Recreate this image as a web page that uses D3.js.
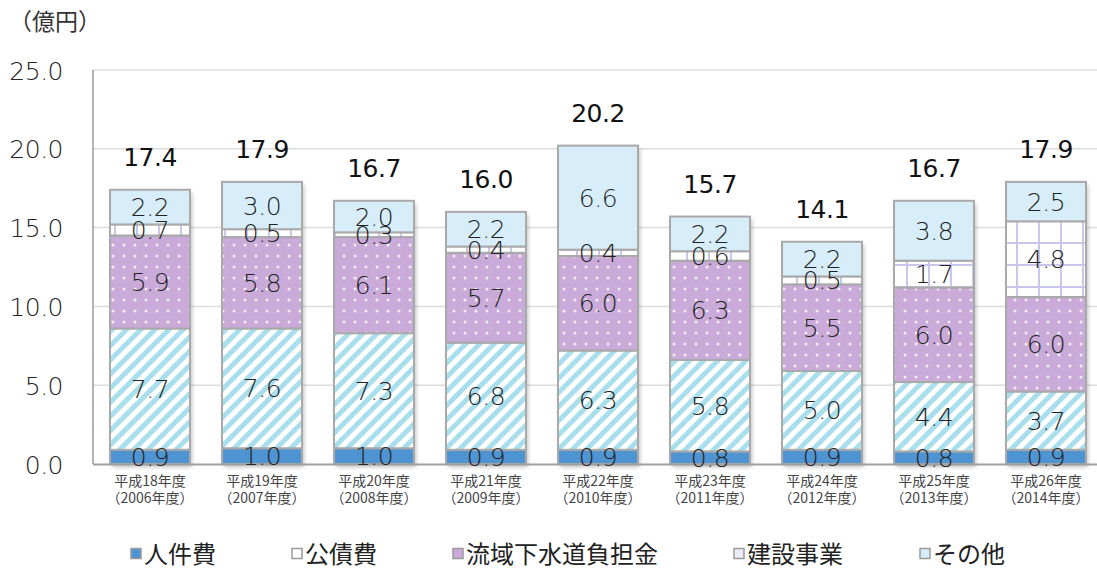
<!DOCTYPE html>
<html><head><meta charset="utf-8">
<script src="https://cdn.jsdelivr.net/npm/d3@7"></script>
<style>
html,body{margin:0;padding:0;background:#fff;}
svg{display:block;}
</style></head>
<body>
<svg id="chart" width="1097" height="570"></svg>
<script>
const categories = ["平成18年度|（2006年度）","平成19年度|（2007年度）","平成20年度|（2008年度）","平成21年度|（2009年度）","平成22年度|（2010年度）","平成23年度|（2011年度）","平成24年度|（2012年度）","平成25年度|（2013年度）","平成26年度|（2014年度）"];
const seriesNames = ["人件費","公債費","流域下水道負担金","建設事業","その他"];
const jinkenhi = [0.9,1.0,1.0,0.9,0.9,0.8,0.9,0.8,0.9];
const kousaihi = [7.7,7.6,7.3,6.8,6.3,5.8,5.0,4.4,3.7];
const ryuiki = [5.9,5.8,6.1,5.7,6.0,6.3,5.5,6.0,6.0];
const kensetsu = [0.7,0.5,0.3,0.4,0.4,0.6,0.5,1.7,4.8];
const sonota = [2.2,3.0,2.0,2.2,6.6,2.2,2.2,3.8,2.5];
const totals = [17.4,17.9,16.7,16.0,20.2,15.7,14.1,16.7,17.9];
const yTicks = [0,5,10,15,20,25];
const unitLabel = "（億円）";

(function(){
const seriesValues = [jinkenhi,kousaihi,ryuiki,kensetsu,sonota];
const fills = ["#4f94d2","url(#stripes)","url(#dots)","url(#grid)","#d7eefa"];
const legendFills = ["#4f94d2","#ffffff","#c9aad8","#ececf8","#d7eefa"];

const svg = d3.select("#chart");
const defs = svg.append("defs");

const ps = defs.append("pattern").attr("id","stripes").attr("patternUnits","userSpaceOnUse")
  .attr("width",10).attr("height",10).attr("patternTransform","rotate(45)");
ps.append("rect").attr("width",10).attr("height",10).attr("fill","#ffffff");
ps.append("rect").attr("width",5).attr("height",10).attr("fill","#a9dfec");

const pd = defs.append("pattern").attr("id","dots").attr("patternUnits","userSpaceOnUse")
  .attr("width",11).attr("height",11);
pd.append("rect").attr("width",11).attr("height",11).attr("fill","#c9aad8");
pd.append("circle").attr("cx",3).attr("cy",3).attr("r",1.5).attr("fill","#f4eefa");

const pg = defs.append("pattern").attr("id","grid").attr("patternUnits","userSpaceOnUse")
  .attr("width",22).attr("height",22).attr("x",4).attr("y",0);
pg.append("rect").attr("width",22).attr("height",22).attr("fill","#ffffff");
pg.append("rect").attr("x",0).attr("y",0).attr("width",2).attr("height",22).attr("fill","#c9c6ec");
pg.append("rect").attr("x",0).attr("y",0).attr("width",22).attr("height",2).attr("fill","#c9c6ec");

const sh = defs.append("filter").attr("id","shadow").attr("x","-10%").attr("y","-10%").attr("width","130%").attr("height","130%");
sh.append("feDropShadow").attr("dx",2).attr("dy",3).attr("stdDeviation",2).attr("flood-color","#000").attr("flood-opacity",0.25);

const plotTop = 70, plotBottom = 464, plotLeft = 94, plotRight = 1102;
const y = d3.scaleLinear().domain([0,25]).range([plotBottom, plotTop]);
const x = d3.scaleBand().domain(categories).range([plotLeft, plotRight]).paddingInner(0.286).paddingOuter(0.143);

const numFont = "'DejaVu Sans', sans-serif";
const jpFont = "'Noto Sans CJK JP', sans-serif";

svg.append("g").selectAll("line").data(yTicks.filter(t=>t>0)).join("line")
  .attr("x1",plotLeft-1).attr("x2",1097).attr("y1",d=>y(d)).attr("y2",d=>y(d))
  .attr("stroke","#dcdcdc").attr("stroke-width",1.5);
svg.append("line").attr("x1",plotLeft-1).attr("x2",plotLeft-1).attr("y1",plotTop).attr("y2",plotBottom)
  .attr("stroke","#9a9a9a").attr("stroke-width",1.5);

const yAxis = d3.axisLeft(y).tickValues(yTicks).tickFormat(d3.format(".1f")).tickSize(0).tickPadding(0);
const ya = svg.append("g").attr("transform","translate(63,0)").call(yAxis);
ya.select(".domain").remove();
ya.selectAll("text").attr("font-family",numFont).attr("font-size",25).attr("font-weight",200)
  .attr("fill","#222").attr("letter-spacing","-0.5px").attr("dy","0.36em");

const rows = categories.map((c,i)=>{ const o={cat:c}; seriesNames.forEach((s,j)=>o[s]=seriesValues[j][i]); return o; });
const stack = d3.stack().keys(seriesNames)(rows);

const barsG = svg.append("g");
categories.forEach((c,i)=>{
  barsG.append("rect").attr("x",x(c)).attr("width",x.bandwidth())
    .attr("y",y(totals[i])).attr("height",y(0)-y(totals[i]))
    .attr("fill","#fff").attr("filter","url(#shadow)");
});
stack.forEach((layer,j)=>{
  barsG.append("g").selectAll("rect").data(layer.filter(d=>d[1]-d[0]>0)).join("rect")
    .attr("x",d=>x(d.data.cat)).attr("width",x.bandwidth())
    .attr("y",d=>y(d[1])).attr("height",d=>y(d[0])-y(d[1]))
    .attr("fill",fills[j]).attr("stroke","#a9a9a9").attr("stroke-width",2);
});

svg.append("line").attr("x1",plotLeft-1).attr("x2",1097).attr("y1",plotBottom+0.5).attr("y2",plotBottom+0.5)
  .attr("stroke","#a0a0a0").attr("stroke-width",2);

stack.forEach((layer,j)=>{
  svg.append("g").selectAll("text").data(layer.filter(d=>d[1]-d[0]>0)).join("text")
    .attr("x",d=>x(d.data.cat)+x.bandwidth()/2)
    .attr("y",d=>(y(d[0])+y(d[1]))/2)
    .attr("dy","0.36em").attr("text-anchor","middle")
    .attr("font-family",numFont).attr("font-size",25).attr("font-weight",200)
    .attr("letter-spacing","-0.5px").attr("fill","#222")
    .text(d=>d3.format(".1f")(d[1]-d[0]));
});

svg.append("g").selectAll("text").data(totals).join("text")
  .attr("x",(d,i)=>x(categories[i])+x.bandwidth()/2)
  .attr("y",d=>y(d)-33).attr("dy","0.36em").attr("text-anchor","middle")
  .attr("font-family",numFont).attr("font-size",25).attr("font-weight",400)
  .attr("letter-spacing","-0.5px").attr("fill","#111")
  .text(d=>d3.format(".1f")(d));

const xl = svg.append("g").selectAll("text").data(categories).join("text")
  .attr("text-anchor","middle").attr("font-family",jpFont)
  .attr("font-size",14).attr("fill","#444");
xl.append("tspan").attr("x",d=>x(d)+x.bandwidth()/2).attr("y",486).text(d=>d.split("|")[0]);
xl.append("tspan").attr("x",d=>x(d)+x.bandwidth()/2).attr("y",503).text(d=>d.split("|")[1]);

svg.append("text").attr("x",9).attr("y",30).attr("font-family",jpFont)
  .attr("font-size",23).attr("fill","#333").text(unitLabel);

const legendX = [131, 292, 453, 734, 920];
const lg = svg.append("g").selectAll("g").data(seriesNames).join("g")
  .attr("transform",(d,i)=>`translate(${legendX[i]},554)`);
lg.append("rect").attr("x",0).attr("y",-5.5).attr("width",10).attr("height",10)
  .attr("fill",(d,i)=>legendFills[i]).attr("stroke","#9a9a9a").attr("stroke-width",1.5);
lg.append("text").attr("x",13).attr("y",0).attr("dy","0.36em")
  .attr("font-family",jpFont).attr("font-size",24).attr("fill","#222")
  .text(d=>d);
})();
</script>
</body></html>
